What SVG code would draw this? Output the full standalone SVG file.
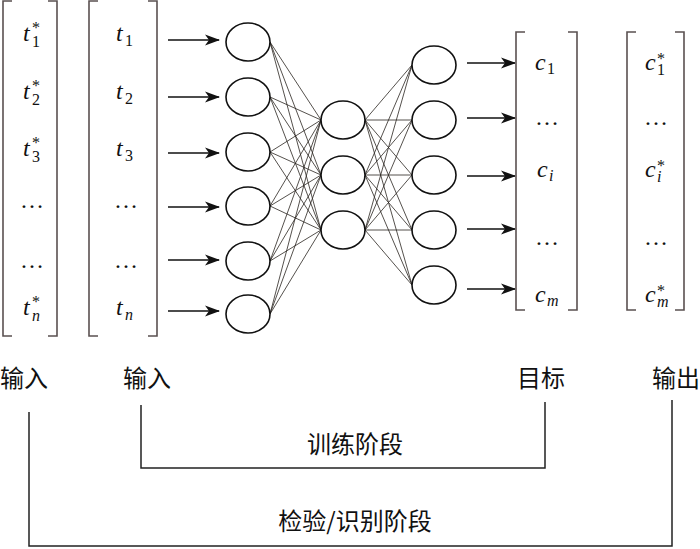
<svg xmlns="http://www.w3.org/2000/svg" width="700" height="549" viewBox="0 0 700 549">
<defs>
<marker id="ah" markerUnits="userSpaceOnUse" markerWidth="16" markerHeight="12" refX="14" refY="6" orient="auto">
<path d="M0,0.5 L15,6 L0,11.5 L4,6 Z" fill="#111"/>
</marker>
<style>
.br{fill:none;stroke:#5a5050;stroke-width:1.6}
.nd{fill:#fff;stroke:#111;stroke-width:1.6}
.ed{stroke:#2a2420;stroke-width:0.8}
.ar{stroke:#111;stroke-width:1.6;marker-end:url(#ah)}
.ph{fill:none;stroke:#222;stroke-width:1.5}
.m{font-size:24px;font-style:italic;fill:#111}
.s{font-size:16px;fill:#111}
.si{font-size:16px;font-style:italic;fill:#111}
.d{font-size:24px;fill:#111;text-anchor:middle}
.z{font-size:24px;fill:#111}
</style>
</defs>
<rect width="700" height="549" fill="#fff"/>

<g id="vec-tstar" font-family="Liberation Serif, Times New Roman, serif">
<path class="br" d="M12,1 H3 V336 H12 M48,1 H57 V336 H48"/>
<text class="m" x="23" y="41">t</text><text class="s" x="32" y="33">*</text><text class="s" x="32" y="47">1</text>
<text class="m" x="23" y="99">t</text><text class="s" x="32" y="91">*</text><text class="s" x="32" y="105">2</text>
<text class="m" x="23" y="156">t</text><text class="s" x="32" y="148">*</text><text class="s" x="32" y="162">3</text>
<text class="d" x="32" y="208">…</text>
<text class="d" x="32" y="268">…</text>
<text class="m" x="23" y="315">t</text><text class="s" x="32" y="307">*</text><text class="si" x="32" y="321">n</text>
</g>

<g id="vec-t" font-family="Liberation Serif, Times New Roman, serif">
<path class="br" d="M98,1 H89 V336 H98 M148,1 H157 V336 H148"/>
<text class="m" x="116" y="41">t</text><text class="s" x="125" y="46">1</text>
<text class="m" x="116" y="99">t</text><text class="s" x="125" y="104">2</text>
<text class="m" x="116" y="156">t</text><text class="s" x="125" y="161">3</text>
<text class="d" x="126" y="208">…</text>
<text class="d" x="126" y="268">…</text>
<text class="m" x="116" y="315">t</text><text class="si" x="125" y="320">n</text>
</g>

<g id="connectors">
<line class="ar" x1="168" y1="40" x2="219" y2="40"/>
<line class="ar" x1="168" y1="97" x2="219" y2="97"/>
<line class="ar" x1="168" y1="153" x2="219" y2="153"/>
<line class="ar" x1="168" y1="207" x2="219" y2="207"/>
<line class="ar" x1="168" y1="260" x2="219" y2="260"/>
<line class="ar" x1="168" y1="311" x2="219" y2="311"/>

<line class="ar" x1="467" y1="63" x2="515" y2="63"/>
<line class="ar" x1="467" y1="118" x2="515" y2="118"/>
<line class="ar" x1="467" y1="176" x2="515" y2="176"/>
<line class="ar" x1="467" y1="229" x2="515" y2="229"/>
<line class="ar" x1="467" y1="289" x2="515" y2="289"/>

<g class="ed">
<line x1="270" y1="42" x2="321" y2="120"/><line x1="270" y1="42" x2="321" y2="175"/><line x1="270" y1="42" x2="321" y2="230"/>
<line x1="270" y1="97" x2="321" y2="120"/><line x1="270" y1="97" x2="321" y2="175"/><line x1="270" y1="97" x2="321" y2="230"/>
<line x1="270" y1="152" x2="321" y2="120"/><line x1="270" y1="152" x2="321" y2="175"/><line x1="270" y1="152" x2="321" y2="230"/>
<line x1="270" y1="206" x2="321" y2="120"/><line x1="270" y1="206" x2="321" y2="175"/><line x1="270" y1="206" x2="321" y2="230"/>
<line x1="270" y1="261" x2="321" y2="120"/><line x1="270" y1="261" x2="321" y2="175"/><line x1="270" y1="261" x2="321" y2="230"/>
<line x1="270" y1="314" x2="321" y2="120"/><line x1="270" y1="314" x2="321" y2="175"/><line x1="270" y1="314" x2="321" y2="230"/>

<line x1="365" y1="120" x2="412" y2="65"/><line x1="365" y1="120" x2="412" y2="120"/><line x1="365" y1="120" x2="412" y2="175"/><line x1="365" y1="120" x2="412" y2="230"/><line x1="365" y1="120" x2="412" y2="285"/>
<line x1="365" y1="175" x2="412" y2="65"/><line x1="365" y1="175" x2="412" y2="120"/><line x1="365" y1="175" x2="412" y2="175"/><line x1="365" y1="175" x2="412" y2="230"/><line x1="365" y1="175" x2="412" y2="285"/>
<line x1="365" y1="230" x2="412" y2="65"/><line x1="365" y1="230" x2="412" y2="120"/><line x1="365" y1="230" x2="412" y2="175"/><line x1="365" y1="230" x2="412" y2="230"/><line x1="365" y1="230" x2="412" y2="285"/>
</g>

<path class="ph" d="M141,405 V468 H545 V402"/>
<path class="ph" d="M29,412 V546 H672 V400"/>
</g>

<g id="in1"><ellipse class="nd" cx="248" cy="42" rx="22" ry="19"/></g>
<g id="in2"><ellipse class="nd" cx="248" cy="97" rx="22" ry="19"/></g>
<g id="in3"><ellipse class="nd" cx="248" cy="152" rx="22" ry="19"/></g>
<g id="in4"><ellipse class="nd" cx="248" cy="206" rx="22" ry="19"/></g>
<g id="in5"><ellipse class="nd" cx="248" cy="261" rx="22" ry="19"/></g>
<g id="in6"><ellipse class="nd" cx="248" cy="314" rx="22" ry="19"/></g>

<g id="h1"><ellipse class="nd" cx="343" cy="120" rx="22" ry="19"/></g>
<g id="h2"><ellipse class="nd" cx="343" cy="175" rx="22" ry="19"/></g>
<g id="h3"><ellipse class="nd" cx="343" cy="230" rx="22" ry="19"/></g>

<g id="o1"><ellipse class="nd" cx="434" cy="65" rx="22" ry="19"/></g>
<g id="o2"><ellipse class="nd" cx="434" cy="120" rx="22" ry="19"/></g>
<g id="o3"><ellipse class="nd" cx="434" cy="175" rx="22" ry="19"/></g>
<g id="o4"><ellipse class="nd" cx="434" cy="230" rx="22" ry="19"/></g>
<g id="o5"><ellipse class="nd" cx="434" cy="285" rx="22" ry="19"/></g>

<g id="vec-c" font-family="Liberation Serif, Times New Roman, serif">
<path class="br" d="M525,32 H516 V310 H525 M568,32 H577 V310 H568"/>
<text class="m" x="535" y="70">c</text><text class="s" x="547" y="74">1</text>
<text class="d" x="547" y="125">…</text>
<text class="m" x="537" y="177">c</text><text class="si" x="549" y="181">i</text>
<text class="d" x="547" y="245">…</text>
<text class="m" x="535" y="302">c</text><text class="si" x="547" y="306">m</text>
</g>

<g id="vec-cstar" font-family="Liberation Serif, Times New Roman, serif">
<path class="br" d="M636,32 H627 V310 H636 M675,32 H684 V310 H675"/>
<text class="m" x="645" y="70">c</text><text class="s" x="657" y="64">*</text><text class="s" x="657" y="75">1</text>
<text class="d" x="656" y="125">…</text>
<text class="m" x="645" y="177">c</text><text class="s" x="657" y="171">*</text><text class="si" x="657" y="182">i</text>
<text class="d" x="656" y="245">…</text>
<text class="m" x="645" y="302">c</text><text class="s" x="657" y="296">*</text><text class="si" x="657" y="307">m</text>
</g>

<g id="labels" font-family="Noto Sans CJK SC, sans-serif">
<text class="z" x="0" y="387">输入</text>
<text class="z" x="123" y="387">输入</text>
<text class="z" x="517" y="387">目标</text>
<text class="z" x="652" y="387">输出</text>
<text class="z" x="355" y="453" text-anchor="middle">训练阶段</text>
<text class="z" x="355" y="530" text-anchor="middle">检验/识别阶段</text>
</g>
</svg>
